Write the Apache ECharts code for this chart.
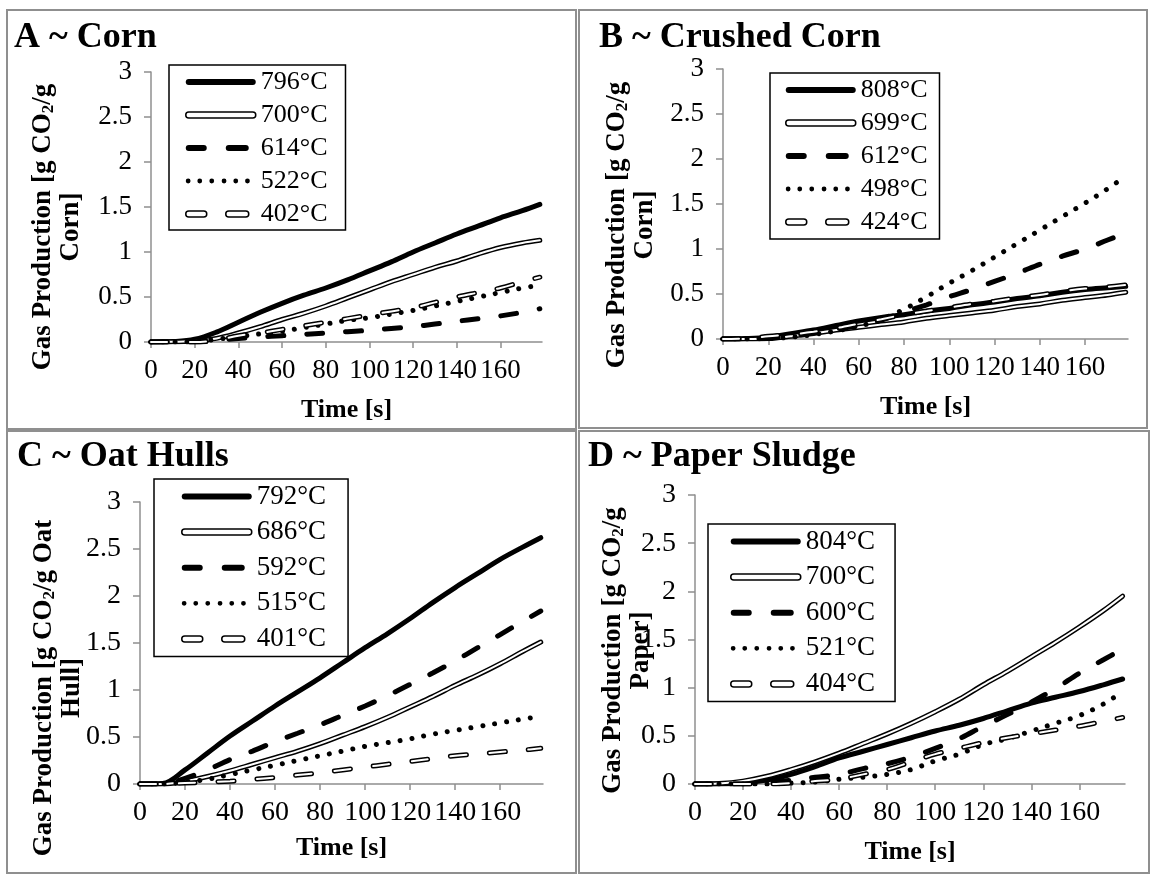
<!DOCTYPE html>
<html>
<head>
<meta charset="utf-8">
<title>Gas Production</title>
<script src="https://cdn.jsdelivr.net/npm/echarts@6/dist/echarts.min.js"></script>
<style>
    html, body { margin: 0; padding: 0; background: #fff; }
    #main { width: 1153px; height: 875px; }
</style>
</head>
<body>
<div id="main"></div>
<script>
// time [s], shared by every panel
var time = [0, 10, 20, 30, 40, 50, 60, 70, 80, 90, 100, 110, 120, 130, 140, 150, 160, 170, 178];
var xTicks = [0, 20, 40, 60, 80, 100, 120, 140, 160];

// A ~ Corn
var cornNames = ['796°C', '700°C', '614°C', '522°C', '402°C'];
var corn796 = [0, 0.005, 0.03, 0.11, 0.22, 0.33, 0.43, 0.52, 0.6, 0.69, 0.79, 0.89, 1.0, 1.1, 1.2, 1.29, 1.38, 1.46, 1.53];
var corn700 = [0, 0.003, 0.01, 0.04, 0.1, 0.17, 0.25, 0.32, 0.4, 0.49, 0.58, 0.67, 0.75, 0.83, 0.9, 0.98, 1.05, 1.1, 1.13];
var corn614 = [0, 0, 0, 0.02, 0.04, 0.055, 0.07, 0.085, 0.1, 0.115, 0.13, 0.15, 0.17, 0.2, 0.23, 0.26, 0.29, 0.33, 0.37];
var corn522 = [0, 0, 0.005, 0.03, 0.06, 0.09, 0.12, 0.16, 0.2, 0.24, 0.27, 0.31, 0.35, 0.4, 0.45, 0.5, 0.55, 0.6, 0.63];
var corn402 = [0, 0, 0, 0.02, 0.07, 0.1, 0.14, 0.18, 0.22, 0.26, 0.3, 0.34, 0.38, 0.44, 0.5, 0.55, 0.6, 0.67, 0.72];

// B ~ Crushed Corn
var crushedNames = ['808°C', '699°C', '612°C', '498°C', '424°C'];
var crushed808 = [0, 0.005, 0.02, 0.06, 0.1, 0.15, 0.2, 0.24, 0.27, 0.31, 0.34, 0.38, 0.41, 0.45, 0.48, 0.52, 0.55, 0.57, 0.585];
var crushed699 = [0, 0, 0.005, 0.03, 0.06, 0.1, 0.13, 0.16, 0.19, 0.23, 0.26, 0.29, 0.32, 0.36, 0.39, 0.43, 0.46, 0.49, 0.52];
var crushed612 = [0, 0, 0.01, 0.03, 0.07, 0.11, 0.15, 0.21, 0.3, 0.38, 0.47, 0.55, 0.64, 0.73, 0.83, 0.92, 1.0, 1.1, 1.18];
var crushed498 = [0, 0, 0.005, 0.02, 0.05, 0.09, 0.14, 0.22, 0.33, 0.47, 0.62, 0.76, 0.91, 1.06, 1.21, 1.36, 1.51, 1.67, 1.81];
var crushed424 = [0, 0.005, 0.03, 0.05, 0.08, 0.12, 0.17, 0.22, 0.27, 0.31, 0.35, 0.39, 0.42, 0.46, 0.49, 0.53, 0.56, 0.58, 0.6];

// C ~ Oat Hulls
var oatNames = ['792°C', '686°C', '592°C', '515°C', '401°C'];
var oat792 = [0, 0.005, 0.15, 0.33, 0.51, 0.67, 0.83, 0.98, 1.13, 1.29, 1.45, 1.6, 1.76, 1.93, 2.09, 2.24, 2.39, 2.52, 2.62];
var oat686 = [0, 0, 0.03, 0.08, 0.14, 0.21, 0.28, 0.35, 0.43, 0.52, 0.61, 0.71, 0.82, 0.93, 1.05, 1.16, 1.28, 1.41, 1.51];
var oat592 = [0, 0, 0.06, 0.15, 0.26, 0.35, 0.45, 0.54, 0.63, 0.73, 0.83, 0.94, 1.06, 1.18, 1.31, 1.45, 1.59, 1.73, 1.84];
var oat515 = [0, 0, 0.02, 0.05, 0.1, 0.15, 0.2, 0.25, 0.3, 0.35, 0.4, 0.44, 0.48, 0.53, 0.57, 0.61, 0.65, 0.69, 0.72];
var oat401 = [0, 0, 0.01, 0.02, 0.03, 0.05, 0.07, 0.095, 0.12, 0.15, 0.18, 0.21, 0.24, 0.27, 0.3, 0.32, 0.34, 0.36, 0.38];

// D ~ Paper Sludge
var paperNames = ['804°C', '700°C', '600°C', '521°C', '404°C'];
var paper804 = [0, 0, 0.01, 0.04, 0.1, 0.18, 0.27, 0.34, 0.41, 0.48, 0.55, 0.61, 0.68, 0.76, 0.84, 0.9, 0.96, 1.03, 1.09];
var paper700 = [0, 0.005, 0.03, 0.08, 0.15, 0.23, 0.32, 0.42, 0.52, 0.63, 0.75, 0.88, 1.03, 1.17, 1.32, 1.47, 1.63, 1.8, 1.95];
var paper600 = [0, 0, 0, 0.01, 0.04, 0.07, 0.1, 0.16, 0.21, 0.28, 0.37, 0.47, 0.6, 0.72, 0.85, 0.99, 1.15, 1.29, 1.4];
var paper521 = [0, 0, 0, 0, 0.01, 0.02, 0.05, 0.07, 0.1, 0.15, 0.24, 0.31, 0.41, 0.47, 0.55, 0.63, 0.71, 0.83, 0.96];
var paper404 = [0, 0, 0, 0, 0.01, 0.03, 0.05, 0.1, 0.15, 0.23, 0.31, 0.37, 0.43, 0.48, 0.52, 0.56, 0.6, 0.65, 0.69];

var FONT = 'Liberation Serif';

// layout of the four panels
var panels = [
    { title: 'A ~ Corn', tx: 14, ty: 20, grid: { left: 151, top: 72, width: 391, height: 270 },
      yName: 'Gas Production [g CO{sub|2}/g\nCorn]', yGap: 66, yShift: 20, xGap: 55, fs: 27, lfs: 26,
      legend: { left: 169, top: 65, gap: 7, pad: [4, 18, 3, 16] },
      names: cornNames, data: [corn796, corn700, corn614, corn522, corn402] },
    { title: 'B ~ Crushed Corn', tx: 599, ty: 20, grid: { left: 723, top: 69, width: 405, height: 270 },
      yName: 'Gas Production [g CO{sub|2}/g\nCorn]', yGap: 64, yShift: 21, xGap: 55, fs: 27, lfs: 26,
      legend: { left: 770, top: 73, gap: 7, pad: [4, 12, 4, 15] },
      names: crushedNames, data: [crushed808, crushed699, crushed612, crushed498, crushed424] },
    { title: 'C ~ Oat Hulls', tx: 17, ty: 439, grid: { left: 140, top: 502, width: 403, height: 282 },
      yName: 'Gas Production [g CO{sub|2}/g Oat\nHull]', yGap: 54, yShift: 45, xGap: 51, fs: 28, lfs: 27,
      legend: { left: 154, top: 479, gap: 8.6, pad: [4, 22, 4, 27] },
      names: oatNames, data: [oat792, oat686, oat592, oat515, oat401] },
    { title: 'D ~ Paper Sludge', tx: 588, ty: 439, grid: { left: 695, top: 495, width: 430, height: 289 },
      yName: 'Gas Production [g CO{sub|2}/g\nPaper]', yGap: 40, yShift: 11, xGap: 55, fs: 28, lfs: 27,
      legend: { left: 708, top: 524, gap: 8.6, pad: [4, 20, 4, 22] },
      names: paperNames, data: [paper804, paper700, paper600, paper521, paper404] }
];

// panel cell borders
var cells = [
    { x: 7, y: 10, w: 569, h: 419 },
    { x: 579, y: 10, w: 568, h: 418 },
    { x: 7, y: 431, w: 569, h: 442 },
    { x: 579, y: 431, w: 570, h: 442 }
];

// legend icon paths, 70 x 6 box
function capsule(a, b) {
    return 'M' + (a + 3) + ' 0L' + (b - 3) + ' 0A3 3 0 0 1 ' + (b - 3) + ' 6L' + (a + 3) + ' 6A3 3 0 0 1 ' + (a + 3) + ' 0Z';
}
function dot(cx) {
    return 'M' + (cx - 2.4) + ' 3A2.4 2.4 0 1 0 ' + (cx + 2.4) + ' 3A2.4 2.4 0 1 0 ' + (cx - 2.4) + ' 3Z';
}
var BOX = 'M0 0M70 6';
var iconSolid = 'path://' + BOX + capsule(0, 70);
var iconDash = 'path://' + BOX + capsule(0, 21) + capsule(40, 63);
var iconDot = 'path://' + BOX + [2.4, 14, 26, 38.3, 50, 61.7].map(dot).join('');

var kinds = ['thick', 'double', 'dash', 'dot', 'hollow'];
var DASH = [16, 23];

function legendItem(name, kind) {
    if (kind === 'thick') return { name: name, icon: iconSolid, itemStyle: { color: '#000', borderWidth: 0 } };
    if (kind === 'double') return { name: name, icon: iconSolid, itemStyle: { color: '#fff', borderColor: '#000', borderWidth: 1.5 } };
    if (kind === 'dash') return { name: name, icon: iconDash, itemStyle: { color: '#000', borderWidth: 0 } };
    if (kind === 'dot') return { name: name, icon: iconDot, itemStyle: { color: '#000', borderWidth: 0 } };
    return { name: name, icon: iconDash, itemStyle: { color: '#fff', borderColor: '#000', borderWidth: 1.5 } };
}

function lineSeries(name, idx, values, style) {
    return {
        name: name, type: 'line', xAxisIndex: idx, yAxisIndex: idx,
        data: time.map(function (t, i) { return [t, values[i]]; }),
        symbol: 'none', smooth: 0.35, silent: true,
        lineStyle: style
    };
}

var option = {
    animation: false,
    backgroundColor: '#fff',
    textStyle: { fontFamily: FONT, color: '#000' },
    title: [], grid: [], xAxis: [], yAxis: [], legend: [], series: [],
    graphic: cells.map(function (c) {
        return { type: 'rect', shape: { x: c.x, y: c.y, width: c.w, height: c.h },
                 style: { fill: null, stroke: '#8f8f8f', lineWidth: 2 }, silent: true };
    })
};

panels.forEach(function (p, idx) {
    option.title.push({ text: p.title, left: p.tx, top: p.ty, padding: 0,
        textStyle: { fontFamily: FONT, fontSize: 36, fontWeight: 'bold', color: '#000' } });
    option.grid.push(p.grid);
    option.xAxis.push({
        type: 'value', gridIndex: idx, min: 0, max: 179,
        name: 'Time [s]', nameLocation: 'middle', nameGap: p.xGap, nameMoveOverlap: false,
        nameTextStyle: { fontFamily: FONT, fontSize: 26, fontWeight: 'bold', color: '#000' },
        axisLine: { lineStyle: { color: '#8f8f8f', width: 1.5 } },
        axisTick: { show: true, length: 6, customValues: xTicks, lineStyle: { color: '#8f8f8f', width: 1.5 } },
        axisLabel: { customValues: xTicks, margin: 15, fontFamily: FONT, fontSize: p.fs, color: '#000' },
        splitLine: { show: false }
    });
    option.yAxis.push({
        type: 'value', gridIndex: idx, min: 0, max: 3, interval: 0.5,
        name: p.yName, nameLocation: 'middle', nameGap: p.yGap, nameMoveOverlap: false,
        nameTextStyle: { fontFamily: FONT, fontSize: 27, fontWeight: 'bold', color: '#000', lineHeight: 28,
            padding: [0, 2 * p.yShift, 0, 0],
            rich: { sub: { fontFamily: FONT, fontSize: 17, fontWeight: 'bold', color: '#000', lineHeight: 17, verticalAlign: 'bottom' } } },
        axisLine: { show: true, lineStyle: { color: '#8f8f8f', width: 1.5 } },
        axisTick: { show: true, length: 7, lineStyle: { color: '#8f8f8f', width: 1.5 } },
        axisLabel: { margin: 19, fontFamily: FONT, fontSize: p.fs, color: '#000' },
        splitLine: { show: false }
    });
    option.legend.push({
        orient: 'vertical', left: p.legend.left, top: p.legend.top,
        itemWidth: 70, itemHeight: 6, itemGap: p.legend.gap, padding: p.legend.pad,
        borderColor: '#000', borderWidth: 1.5, backgroundColor: '#fff', selectedMode: false,
        textStyle: { fontFamily: FONT, fontSize: p.lfs, color: '#000' },
        data: p.names.map(function (n, k) { return legendItem(n, kinds[k]); })
    });
    p.names.forEach(function (n, k) {
        var v = p.data[k], kind = kinds[k];
        if (kind === 'thick') {
            option.series.push(lineSeries(n, idx, v, { color: '#000', width: 5, cap: 'round', join: 'round' }));
        } else if (kind === 'double') {
            option.series.push(lineSeries(n, idx, v, { color: '#000', width: 5, cap: 'round', join: 'round' }));
            option.series.push(lineSeries(n + ' inner', idx, v, { color: '#fff', width: 2, cap: 'round', join: 'round' }));
        } else if (kind === 'dash') {
            option.series.push(lineSeries(n, idx, v, { color: '#000', width: 5, type: DASH, cap: 'round' }));
        } else if (kind === 'dot') {
            option.series.push(lineSeries(n, idx, v, { color: '#000', width: 5, type: [0.01, 12], cap: 'round' }));
        } else {
            option.series.push(lineSeries(n, idx, v, { color: '#000', width: 5, type: DASH, cap: 'round' }));
            option.series.push(lineSeries(n + ' inner', idx, v, { color: '#fff', width: 2, type: DASH, cap: 'round' }));
        }
    });
});

var myChart = echarts.init(document.getElementById('main'));
myChart.setOption(option);
</script>
</body>
</html>
